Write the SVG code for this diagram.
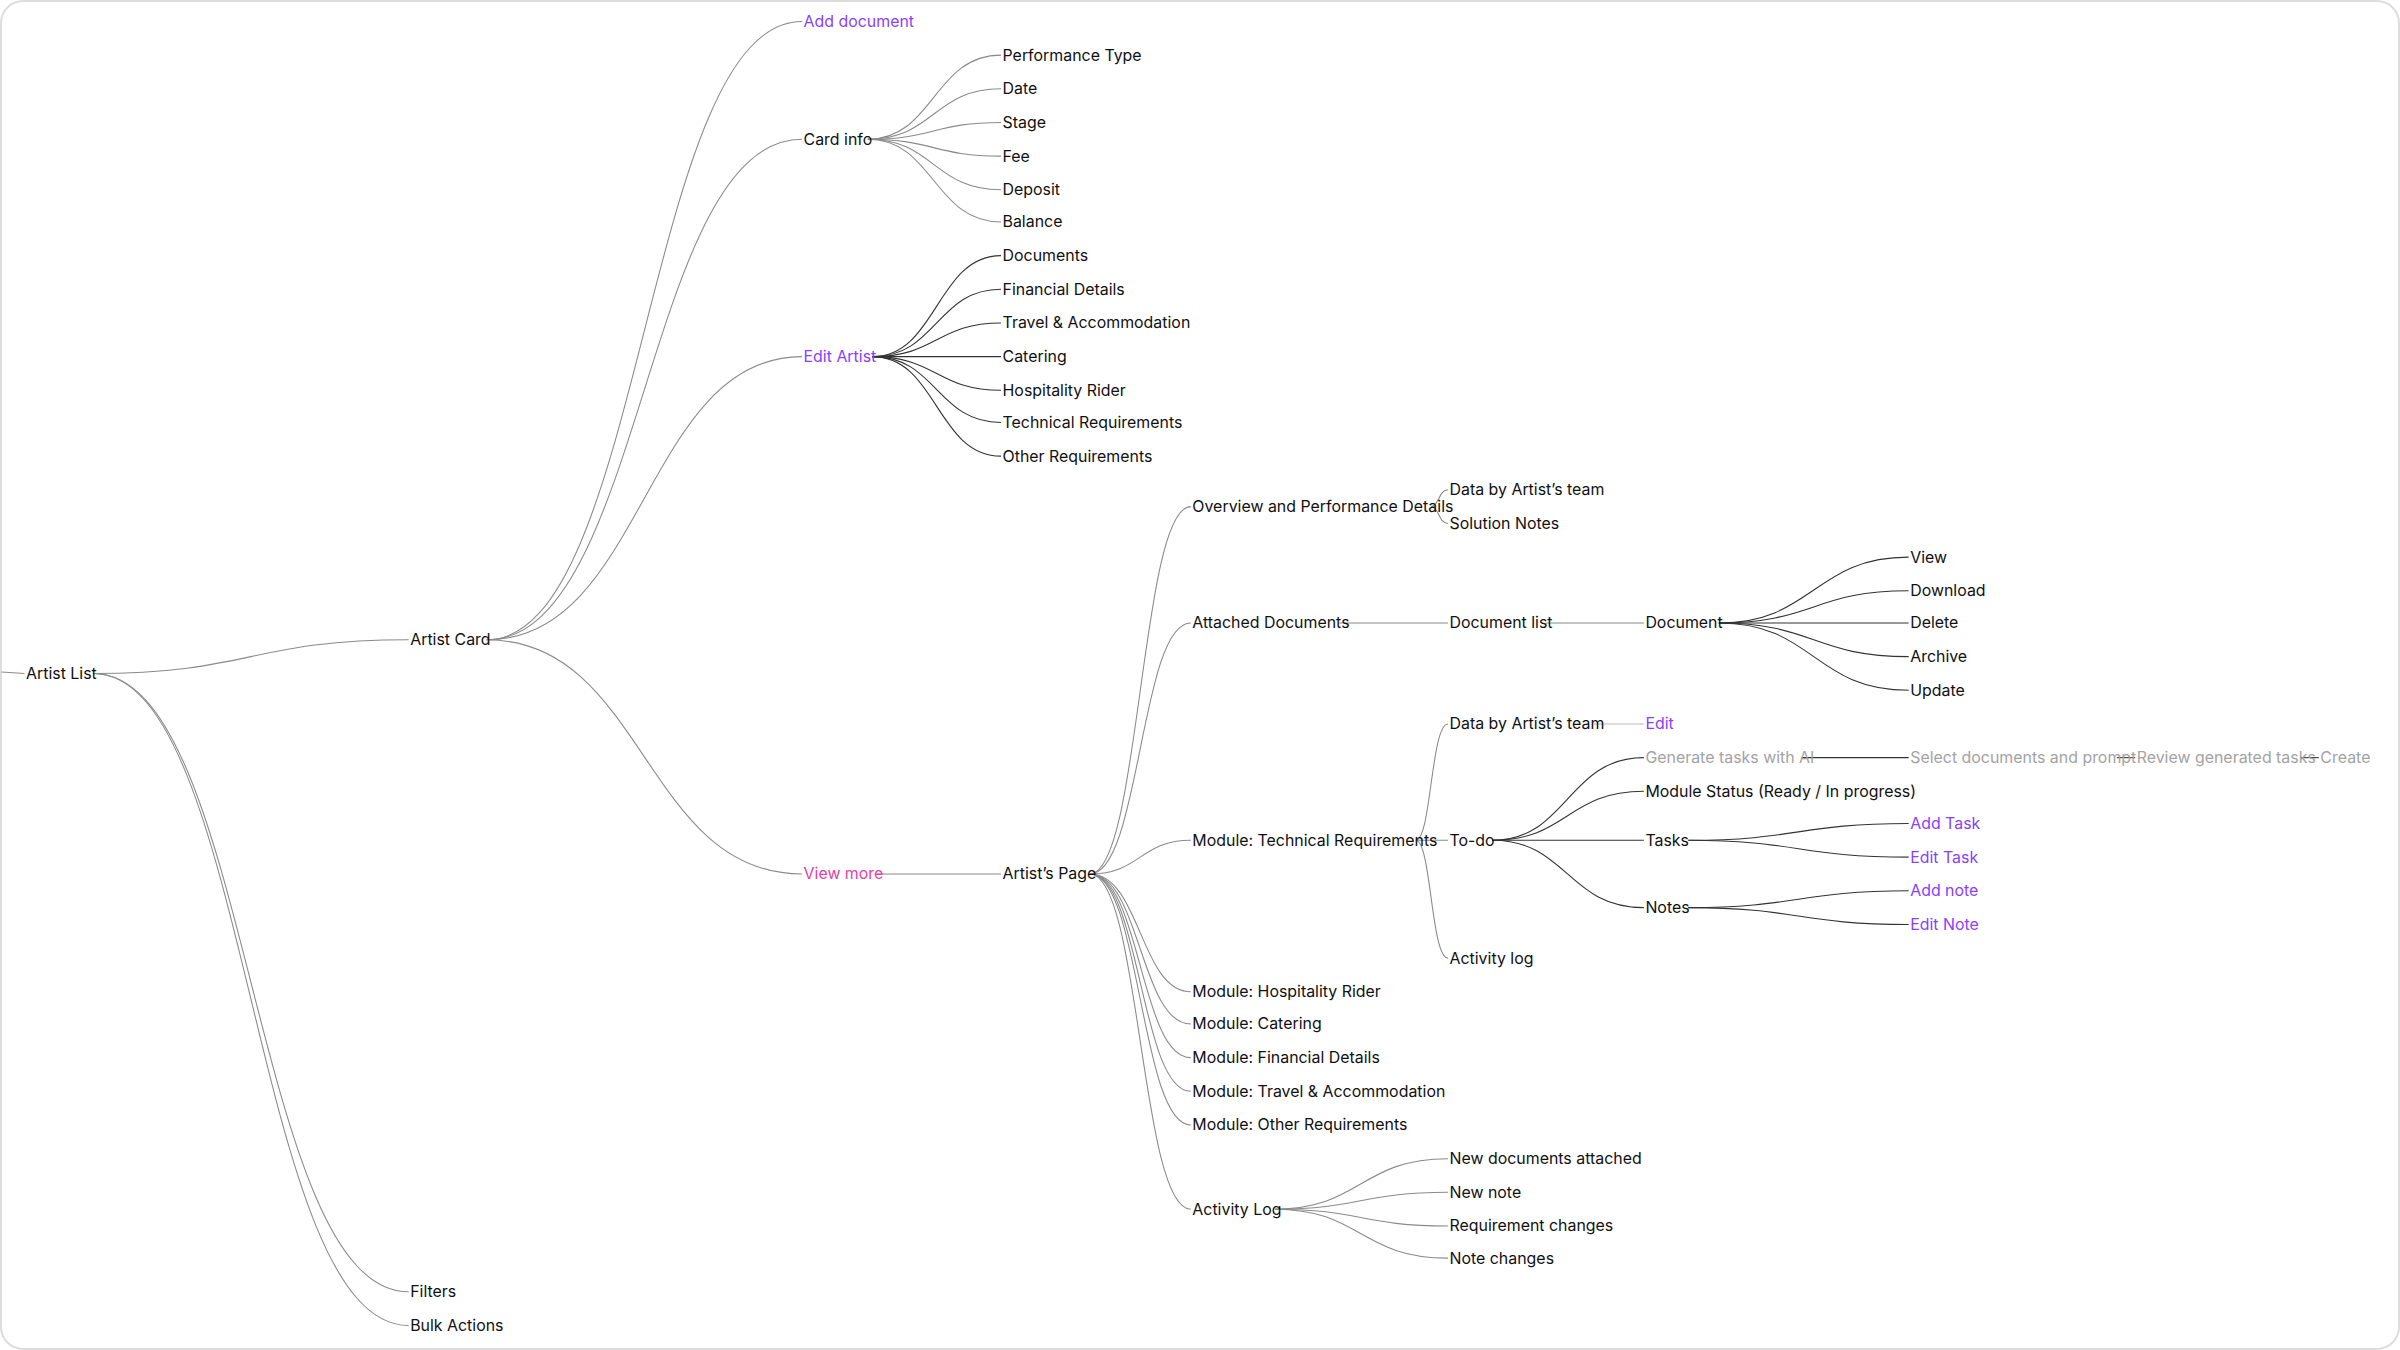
<svg xmlns="http://www.w3.org/2000/svg" width="2400" height="1350" viewBox="0 0 2400 1350">
<style>
text{font-family:Inter,"Liberation Sans",sans-serif;font-size:10.4px;fill:#111;dominant-baseline:central}
.p{fill:#8a3ffc}.k{fill:#e23fa6}.g{fill:#a3a3a3}
#connectors path{fill:none;stroke:#8a8a8a;stroke-width:0.7}
#connectors path.d{stroke:#333}
#connectors path.l{stroke:#bbb}
</style>
<rect x="1" y="1" width="2398" height="1348" rx="22" fill="#fff" stroke="#ddd" stroke-width="2"/>
<g transform="scale(1.5306)">
<g id="connectors">
<path d="M1 439 L16 440"/>
<path d="M61 440 C164 440 164 418 267 418"/>
<path d="M61 440 C164 440 164 844 267 844"/>
<path d="M61 440 C164 440 164 866 267 866"/>
<path d="M318 418 C421 418 421 14 524 14"/>
<path d="M318 418 C421 418 421 91 524 91"/>
<path d="M318 418 C421 418 421 233 524 233"/>
<path d="M318 418 C421 418 421 571 524 571"/>
<path d="M567 91 C610 91 610 36 654 36"/>
<path d="M567 91 C610 91 610 58 654 58"/>
<path d="M567 91 C610 91 610 80 654 80"/>
<path d="M567 91 C610 91 610 102 654 102"/>
<path d="M567 91 C610 91 610 124 654 124"/>
<path d="M567 91 C610 91 610 145 654 145"/>
<path class="d" d="M570 233 C612 233 612 167 654 167"/>
<path class="d" d="M570 233 C612 233 612 189 654 189"/>
<path class="d" d="M570 233 C612 233 612 211 654 211"/>
<path class="d" d="M570 233 L654 233"/>
<path class="d" d="M570 233 C612 233 612 255 654 255"/>
<path class="d" d="M570 233 C612 233 612 276 654 276"/>
<path class="d" d="M570 233 C612 233 612 298 654 298"/>
<path d="M573 571 L654 571"/>
<path d="M712 571 C745 571 745 331 778 331"/>
<path d="M712 571 C745 571 745 407 778 407"/>
<path d="M712 571 C745 571 745 549 778 549"/>
<path d="M712 571 C745 571 745 648 778 648"/>
<path d="M712 571 C745 571 745 669 778 669"/>
<path d="M712 571 C745 571 745 691 778 691"/>
<path d="M712 571 C745 571 745 713 778 713"/>
<path d="M712 571 C745 571 745 735 778 735"/>
<path d="M712 571 C745 571 745 790 778 790"/>
<path d="M935 331 C940 331 940 320 946 320"/>
<path d="M935 331 C940 331 940 342 946 342"/>
<path d="M875 407 L946 407"/>
<path d="M1010 407 L1074 407"/>
<path class="d" d="M1123 407 C1185 407 1185 364 1247 364"/>
<path class="d" d="M1123 407 C1185 407 1185 386 1247 386"/>
<path class="d" d="M1123 407 L1247 407"/>
<path class="d" d="M1123 407 C1185 407 1185 429 1247 429"/>
<path class="d" d="M1123 407 C1185 407 1185 451 1247 451"/>
<path d="M925 549 C935 549 935 473 946 473"/>
<path d="M925 549 L946 549"/>
<path d="M925 549 C935 549 935 626 946 626"/>
<path class="l" d="M1041 473 L1074 473"/>
<path class="d" d="M975 549 C1024 549 1024 495 1074 495"/>
<path class="d" d="M975 549 C1024 549 1024 517 1074 517"/>
<path class="d" d="M975 549 L1074 549"/>
<path class="d" d="M975 549 C1024 549 1024 593 1074 593"/>
<path class="d" d="M1177 495 L1247 495"/>
<path class="d" d="M1383 495 L1395 495"/>
<path class="d" d="M1503 495 L1515 495"/>
<path class="d" d="M1103 549 C1175 549 1175 538 1247 538"/>
<path class="d" d="M1103 549 C1175 549 1175 560 1247 560"/>
<path class="d" d="M1103 593 C1175 593 1175 582 1247 582"/>
<path class="d" d="M1103 593 C1175 593 1175 604 1247 604"/>
<path d="M833 790 C889 790 889 757 946 757"/>
<path d="M833 790 C889 790 889 779 946 779"/>
<path d="M833 790 C889 790 889 801 946 801"/>
<path d="M833 790 C889 790 889 822 946 822"/>
</g>
<g id="n-artist-list"><text x="17" y="440">Artist List</text></g>
<g id="n-artist-card"><text x="268" y="418">Artist Card</text></g>
<g id="n-filters"><text x="268" y="844">Filters</text></g>
<g id="n-bulk"><text x="268" y="866">Bulk Actions</text></g>
<g id="n-add-document"><text class="p" x="525" y="14">Add document</text></g>
<g id="n-card-info"><text x="525" y="91">Card info</text></g>
<g id="n-edit-artist"><text class="p" x="525" y="233">Edit Artist</text></g>
<g id="n-view-more"><text class="k" x="525" y="571">View more</text></g>
<g id="n-perf-type"><text x="655" y="36">Performance Type</text></g>
<g id="n-date"><text x="655" y="58">Date</text></g>
<g id="n-stage"><text x="655" y="80">Stage</text></g>
<g id="n-fee"><text x="655" y="102">Fee</text></g>
<g id="n-deposit"><text x="655" y="124">Deposit</text></g>
<g id="n-balance"><text x="655" y="145">Balance</text></g>
<g id="n-documents"><text x="655" y="167">Documents</text></g>
<g id="n-financial"><text x="655" y="189">Financial Details</text></g>
<g id="n-travel"><text x="655" y="211">Travel &amp; Accommodation</text></g>
<g id="n-catering"><text x="655" y="233">Catering</text></g>
<g id="n-hospitality"><text x="655" y="255">Hospitality Rider</text></g>
<g id="n-technical"><text x="655" y="276">Technical Requirements</text></g>
<g id="n-other"><text x="655" y="298">Other Requirements</text></g>
<g id="n-artists-page"><text x="655" y="571">Artist’s Page</text></g>
<g id="n-overview"><text x="779" y="331">Overview and Performance Details</text></g>
<g id="n-attached"><text x="779" y="407">Attached Documents</text></g>
<g id="n-mod-tech"><text x="779" y="549">Module: Technical Requirements</text></g>
<g id="n-mod-hosp"><text x="779" y="648">Module: Hospitality Rider</text></g>
<g id="n-mod-cat"><text x="779" y="669">Module: Catering</text></g>
<g id="n-mod-fin"><text x="779" y="691">Module: Financial Details</text></g>
<g id="n-mod-travel"><text x="779" y="713">Module: Travel &amp; Accommodation</text></g>
<g id="n-mod-other"><text x="779" y="735">Module: Other Requirements</text></g>
<g id="n-activity-log"><text x="779" y="790">Activity Log</text></g>
<g id="n-data-team-1"><text x="947" y="320">Data by Artist’s team</text></g>
<g id="n-solution"><text x="947" y="342">Solution Notes</text></g>
<g id="n-doc-list"><text x="947" y="407">Document list</text></g>
<g id="n-data-team-2"><text x="947" y="473">Data by Artist’s team</text></g>
<g id="n-todo"><text x="947" y="549">To-do</text></g>
<g id="n-activity-log-2"><text x="947" y="626">Activity log</text></g>
<g id="n-new-docs"><text x="947" y="757">New documents attached</text></g>
<g id="n-new-note"><text x="947" y="779">New note</text></g>
<g id="n-req-changes"><text x="947" y="801">Requirement changes</text></g>
<g id="n-note-changes"><text x="947" y="822">Note changes</text></g>
<g id="n-document"><text x="1075" y="407">Document</text></g>
<g id="n-edit"><text class="p" x="1075" y="473">Edit</text></g>
<g id="n-generate"><text class="g" x="1075" y="495">Generate tasks with AI</text></g>
<g id="n-status"><text x="1075" y="517">Module Status (Ready / In progress)</text></g>
<g id="n-tasks"><text x="1075" y="549">Tasks</text></g>
<g id="n-notes"><text x="1075" y="593">Notes</text></g>
<g id="n-view"><text x="1248" y="364">View</text></g>
<g id="n-download"><text x="1248" y="386">Download</text></g>
<g id="n-delete"><text x="1248" y="407">Delete</text></g>
<g id="n-archive"><text x="1248" y="429">Archive</text></g>
<g id="n-update"><text x="1248" y="451">Update</text></g>
<g id="n-select"><text class="g" x="1248" y="495">Select documents and prompt</text></g>
<g id="n-review"><text class="g" x="1396" y="495">Review generated tasks</text></g>
<g id="n-create"><text class="g" x="1516" y="495">Create</text></g>
<g id="n-add-task"><text class="p" x="1248" y="538">Add Task</text></g>
<g id="n-edit-task"><text class="p" x="1248" y="560">Edit Task</text></g>
<g id="n-add-note"><text class="p" x="1248" y="582">Add note</text></g>
<g id="n-edit-note"><text class="p" x="1248" y="604">Edit Note</text></g>
</g>
</svg>
